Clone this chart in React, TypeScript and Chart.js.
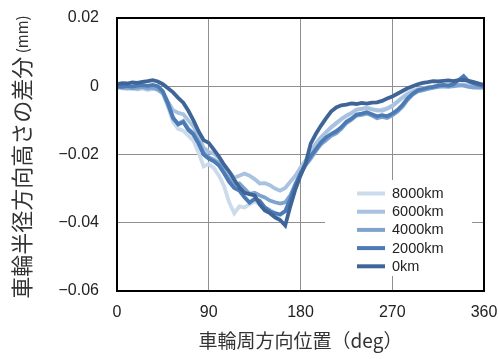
import React, { useEffect, useRef } from "react";
import { Chart, registerables } from "chart.js";

Chart.register(...registerables);

// wheel circumferential position (deg)
const angles = [
  0, 5, 10, 15, 20, 25, 30, 35, 40, 45, 50, 55, 60, 65, 70, 75, 80, 85, 90, 95,
  100, 105, 110, 115, 120, 125, 130, 135, 140, 145, 150, 155, 160, 165, 170, 175,
  180, 185, 190, 195, 200, 205, 210, 215, 220, 225, 230, 235, 240, 245, 250, 255,
  260, 265, 270, 275, 280, 285, 290, 295, 300, 305, 310, 315, 320, 325, 330, 335,
  340, 345, 350, 355, 360,
];

const km0 = [
  0.0006, 0.0009, 0.0008, 0.0011, 0.001, 0.0013, 0.0015, 0.0018, 0.0014, 0.0006,
  -0.0006, -0.0018, -0.0034, -0.0048, -0.0072, -0.01, -0.0132, -0.0158, -0.0166, -0.0186,
  -0.0206, -0.023, -0.025, -0.0274, -0.0296, -0.0312, -0.0316, -0.032, -0.0346, -0.0364,
  -0.0372, -0.0384, -0.0392, -0.0408, -0.0352, -0.0302, -0.0262, -0.0226, -0.0168, -0.014,
  -0.0116, -0.0094, -0.0074, -0.0062, -0.0056, -0.0054, -0.005, -0.0052, -0.0049, -0.0051,
  -0.0048, -0.0047, -0.0043, -0.0036, -0.003, -0.0022, -0.0014, -0.0006, 0.0, 0.0006,
  0.001, 0.0012, 0.0015, 0.0014, 0.0016, 0.0017, 0.0015, 0.0018, 0.0019, 0.0016,
  0.0012, 0.0008, 0.0004,
];

const km2000 = [
  0.0, -0.0002, 0.0001, -0.0001, 0.0002, 0.0003, 0.0001, 0.0004, 0.0, -0.0015,
  -0.005, -0.0092, -0.0112, -0.0105, -0.0128, -0.0142, -0.0168, -0.02, -0.0212, -0.022,
  -0.0232, -0.0255, -0.028, -0.0298, -0.0306, -0.0325, -0.0341, -0.033, -0.0336, -0.0355,
  -0.0366, -0.0372, -0.0376, -0.0366, -0.033, -0.029, -0.0255, -0.0228, -0.0205, -0.0185,
  -0.0165, -0.015, -0.014, -0.0132, -0.012, -0.0104, -0.0095, -0.0083, -0.008, -0.0076,
  -0.0082, -0.0088, -0.0085, -0.0088, -0.008, -0.007, -0.0055, -0.0036, -0.0022, -0.0012,
  -0.0008, -0.0004, -0.0002, 0.0002, 0.0004, 0.0002, 0.0006, 0.0018, 0.003, 0.0014,
  0.0008, 0.0004, 0.0,
];

const km4000 = [
  -0.0002, -0.0004, -0.0003, -0.0006, -0.0004, -0.0002, -0.0005, -0.0003, -0.001, -0.002,
  -0.0055, -0.0095, -0.011, -0.0102, -0.0125, -0.0138, -0.0162, -0.0195, -0.0208, -0.0215,
  -0.0225, -0.025, -0.0272, -0.029, -0.0285, -0.03, -0.0315, -0.0312, -0.032, -0.0326,
  -0.0335, -0.034, -0.0344, -0.034, -0.032, -0.0285, -0.0258, -0.0232, -0.0212, -0.019,
  -0.017, -0.0158, -0.0145, -0.0138, -0.0125, -0.0108, -0.0098, -0.0086, -0.0084, -0.008,
  -0.0086, -0.0094, -0.009, -0.0093, -0.0085, -0.0075, -0.006, -0.004, -0.0025, -0.0015,
  -0.0012, -0.0008, -0.0005, -0.0002, 0.0, -0.0002, 0.0, 0.0003, 0.0002, -0.0002,
  -0.0004, -0.0003, -0.0004,
];

const km6000 = [
  -0.0003, -0.0005, -0.0006, -0.0004, -0.0008, -0.0005, -0.0009, -0.0006, -0.0008, -0.0018,
  -0.0045, -0.007, -0.0078, -0.0082, -0.01, -0.0118, -0.0145, -0.018, -0.0192, -0.0198,
  -0.021, -0.0232, -0.025, -0.0268, -0.0262, -0.0256, -0.0262, -0.0272, -0.0285, -0.0284,
  -0.029, -0.03, -0.0306, -0.0298, -0.028, -0.0262, -0.0238, -0.0218, -0.019, -0.0168,
  -0.015, -0.0135, -0.012, -0.0108, -0.0096, -0.0086, -0.0078, -0.0068, -0.0066, -0.0064,
  -0.0068, -0.007, -0.0072, -0.0066, -0.0058, -0.0046, -0.0034, -0.0024, -0.0016, -0.001,
  -0.0008, -0.0004, -0.0003, 0.0, 0.0002, 0.0001, 0.0, 0.0002, 0.0004, 0.0001,
  -0.0002, -0.0003, -0.0004,
];

const km8000 = [
  -0.0004, -0.0006, -0.0008, -0.0007, -0.001, -0.0006, -0.0011, -0.0008, -0.001, -0.0022,
  -0.006, -0.0105, -0.0125, -0.013, -0.0145, -0.016, -0.0195, -0.0235, -0.0228, -0.024,
  -0.0262, -0.0292, -0.034, -0.0372, -0.0352, -0.0355, -0.0346, -0.0338, -0.0345, -0.0356,
  -0.0362, -0.0372, -0.0378, -0.0365, -0.0335, -0.029, -0.025, -0.0222, -0.0195, -0.0172,
  -0.015, -0.0135, -0.0122, -0.011, -0.0098, -0.0088, -0.008, -0.007, -0.0066, -0.0062,
  -0.0066, -0.0072, -0.0068, -0.0064, -0.0056, -0.0044, -0.0032, -0.002, -0.0012, -0.0008,
  -0.0006, -0.0003, -0.0001, 0.0002, 0.0004, 0.0003, 0.0002, 0.0004, 0.0006, 0.0003,
  0.0, -0.0002, -0.0003,
];

// drawn order: first dataset on top
const seriesLabels = ["0km", "2000km", "4000km", "6000km", "8000km"];
const seriesValues = [km0, km2000, km4000, km6000, km8000];
const seriesColors = ["#3f6598", "#4c7ab5", "#7ea3cf", "#a8c2df", "#cbdbec"];

const xTickValues = [0, 90, 180, 270, 360];
const yTickValues = [0.02, 0, -0.02, -0.04, -0.06];

const xTitle = "車輪周方向位置（deg）";
const yTitleMain = "車輪半径方向高さの差分";
const yTitleUnit = "(mm)";

const TICK_FONT = "'Liberation Sans', Arial, sans-serif";
const CJK_FONT = "'Noto Sans CJK JP', 'Noto Sans', sans-serif";

const decorPlugin = {
  id: "decor",
  afterDatasetsDraw(chart: any) {
    const { ctx, chartArea: a } = chart;
    ctx.save();
    // legend
    const boxL = a.right - 159;
    const boxT = a.top + 162;
    ctx.fillStyle = "#ffffff";
    ctx.fillRect(boxL, boxT, 147, 96);
    const order = [4, 3, 2, 1, 0];
    ctx.font = `14.5px ${TICK_FONT}`;
    ctx.textBaseline = "middle";
    ctx.textAlign = "left";
    order.forEach((di, row) => {
      const ds = chart.data.datasets[di];
      const y = boxT + 13.5 + row * 18.2;
      ctx.strokeStyle = ds.borderColor;
      ctx.lineWidth = 4;
      ctx.beginPath();
      ctx.moveTo(boxL + 32, y);
      ctx.lineTo(boxL + 60, y);
      ctx.stroke();
      ctx.fillStyle = "#222222";
      ctx.fillText(ds.label, boxL + 67, y + 0.5);
    });
    // frame
    ctx.strokeStyle = "#000000";
    ctx.lineWidth = 2;
    ctx.strokeRect(a.left, a.top, a.right - a.left, a.bottom - a.top);
    ctx.restore();
  },
  afterDraw(chart: any) {
    const { ctx, chartArea: a } = chart;
    ctx.save();
    ctx.fillStyle = "#333333";
    // x title
    ctx.font = `19px ${CJK_FONT}`;
    ctx.textAlign = "center";
    ctx.textBaseline = "middle";
    ctx.fillText(xTitle, (a.left + a.right) / 2, 341);
    // y title (rotated)
    ctx.translate(22, 157);
    ctx.rotate(-Math.PI / 2);
    ctx.textAlign = "left";
    ctx.font = `22px ${CJK_FONT}`;
    const w1 = ctx.measureText(yTitleMain).width;
    ctx.font = `15px ${CJK_FONT}`;
    const w2 = ctx.measureText(" " + yTitleUnit).width;
    const start = -(w1 + w2) / 2;
    ctx.font = `22px ${CJK_FONT}`;
    ctx.fillText(yTitleMain, start, 0);
    ctx.font = `15px ${CJK_FONT}`;
    ctx.fillText(" " + yTitleUnit, start + w1, 0);
    ctx.restore();
  },
};

export default function App() {
  const canvasRef = useRef<HTMLCanvasElement | null>(null);

  useEffect(() => {
    if (!canvasRef.current) return;
    const datasets = seriesLabels.map((label, i) => ({
      label,
      data: angles.map((a, j) => ({ x: a, y: seriesValues[i][j] })),
      borderColor: seriesColors[i],
      backgroundColor: seriesColors[i],
      borderWidth: 3.8,
      pointRadius: 0,
      tension: 0,
      fill: false,
    }));
    const chart = new Chart(canvasRef.current, {
      type: "line",
      data: { datasets },
      options: {
        animation: false,
        responsive: false,
        maintainAspectRatio: false,
        layout: { padding: { top: 18, right: 15, bottom: 0, left: 0 } },
        plugins: {
          legend: { display: false },
          tooltip: { enabled: false },
        },
        scales: {
          x: {
            type: "linear",
            min: 0,
            max: 360,
            afterBuildTicks: (scale: any) => {
              scale.ticks = xTickValues.map((v) => ({ value: v }));
            },
            afterFit: (scale: any) => {
              scale.height = 68;
              scale.paddingLeft = 0;
              scale.paddingRight = 0;
              scale.paddingTop = 0;
              scale.paddingBottom = 0;
            },
            grid: { color: "#8f8f8f", lineWidth: 1, drawTicks: false },
            border: { display: false },
            ticks: {
              padding: 12,
              color: "#222222",
              font: { family: TICK_FONT, size: 16 },
              maxRotation: 0,
              callback: (v: any) => String(v),
            },
          },
          y: {
            type: "linear",
            min: -0.06,
            max: 0.02,
            afterBuildTicks: (scale: any) => {
              scale.ticks = yTickValues.map((v) => ({ value: v }));
            },
            afterFit: (scale: any) => {
              scale.width = 117;
              scale.paddingLeft = 0;
              scale.paddingRight = 0;
              scale.paddingTop = 0;
              scale.paddingBottom = 0;
            },
            grid: { color: "#8f8f8f", lineWidth: 1, drawTicks: false },
            border: { display: false },
            ticks: {
              padding: 18,
              color: "#222222",
              font: { family: TICK_FONT, size: 16 },
              callback: (v: any) => {
                const r = Math.round(Number(v) * 100) / 100;
                if (r === 0) return "0";
                return (r < 0 ? "\u2212" : "") + Math.abs(r).toFixed(2);
              },
            },
          },
        },
      },
      plugins: [decorPlugin],
    });
    return () => chart.destroy();
  }, []);

  return (
    <div style={{ position: "absolute", left: 0, top: 0, width: 499, height: 359, background: "#fff" }}>
      <canvas ref={canvasRef} width={499} height={359} style={{ display: "block" }} />
    </div>
  );
}
